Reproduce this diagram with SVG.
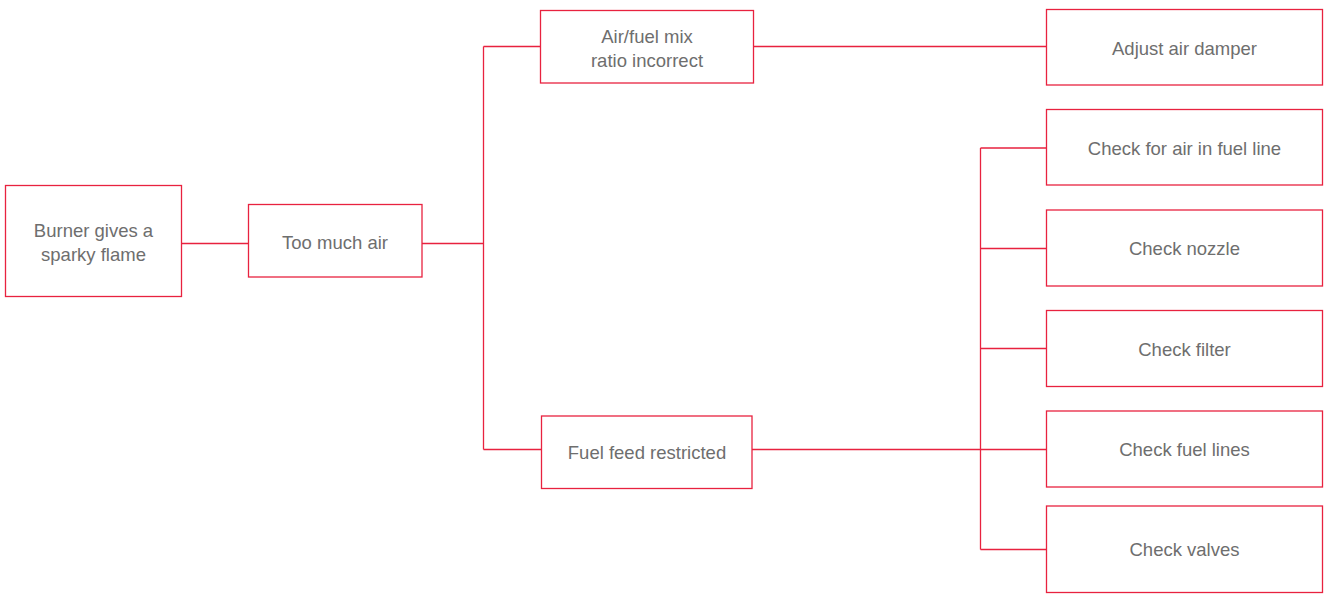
<svg xmlns="http://www.w3.org/2000/svg" width="1324" height="595" viewBox="0 0 1324 595">
<style>
.n{fill:#fff;stroke:#e8223f;stroke-width:1.3}
.t{font-family:"Liberation Sans",Arial,sans-serif;font-size:18.5px;fill:#6e6e6e;text-anchor:middle;dominant-baseline:central}
.c{fill:none;stroke:#e8223f;stroke-width:1.3}
</style>
<rect width="1324" height="595" fill="#fff"/>
<g id="connectors">
<path class="c" d="M181.5 243.5H248.5"/>
<path class="c" d="M422 243.5H483.5M483.5 46.5V449.5M483.5 46.5H540.5M483.5 449.5H541.5"/>
<path class="c" d="M753.5 46.5H1046.5"/>
<path class="c" d="M752 449.5H1046.5M980.5 148V549.5M980.5 148H1046.5M980.5 248.5H1046.5M980.5 348.5H1046.5M980.5 549.5H1046.5"/>
</g>
<g id="n1"><rect class="n" x="5.5" y="185.5" width="176" height="111"/><text class="t" x="93.5" y="230">Burner gives a</text><text class="t" x="93.5" y="254">sparky flame</text></g>
<g id="n2"><rect class="n" x="248.5" y="204.5" width="173.5" height="72.5"/><text class="t" x="335" y="242">Too much air</text></g>
<g id="n3"><rect class="n" x="540.5" y="10.5" width="213" height="72.5"/><text class="t" x="647" y="36">Air/fuel mix</text><text class="t" x="647" y="60">ratio incorrect</text></g>
<g id="n4"><rect class="n" x="541.5" y="416" width="210.5" height="72.5"/><text class="t" x="647" y="452.5">Fuel feed restricted</text></g>
<g id="n5"><rect class="n" x="1046.5" y="9.5" width="276" height="75.5"/><text class="t" x="1184.5" y="48">Adjust air damper</text></g>
<g id="n6"><rect class="n" x="1046.5" y="109.5" width="276" height="75.5"/><text class="t" x="1184.5" y="148">Check for air in fuel line</text></g>
<g id="n7"><rect class="n" x="1046.5" y="210" width="276" height="76"/><text class="t" x="1184.5" y="248.5">Check nozzle</text></g>
<g id="n8"><rect class="n" x="1046.5" y="310.5" width="276" height="76"/><text class="t" x="1184.5" y="349">Check filter</text></g>
<g id="n9"><rect class="n" x="1046.5" y="411" width="276" height="76"/><text class="t" x="1184.5" y="449.5">Check fuel lines</text></g>
<g id="n10"><rect class="n" x="1046.5" y="506" width="276" height="86.5"/><text class="t" x="1184.5" y="549.5">Check valves</text></g>
</svg>
